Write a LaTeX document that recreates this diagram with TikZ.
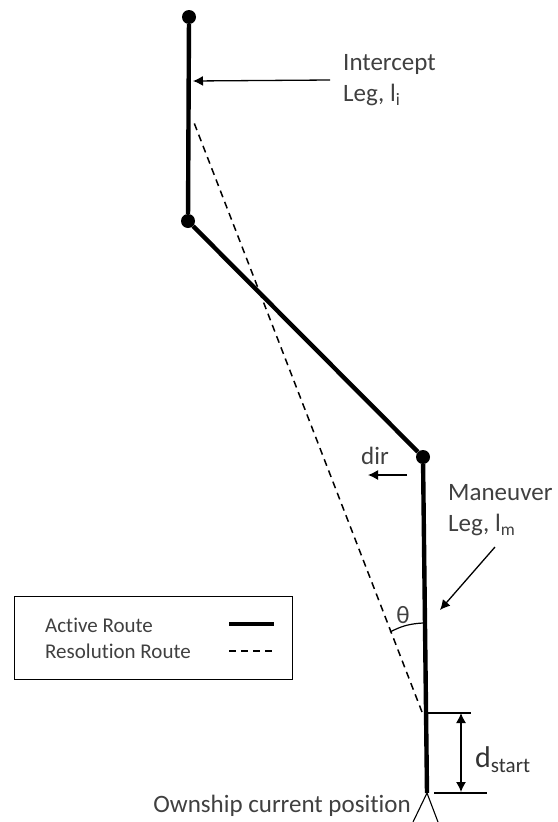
\documentclass[tikz,border=0pt]{standalone}
\usepackage{fontspec}
\setmainfont[Ligatures=NoCommon]{Carlito}
\usetikzlibrary{arrows.meta}
\tikzset{
  label text/.style={inner sep=0pt, text=black!75, font=\fontsize{25}{28}\selectfont, align=left},
  key text/.style={inner sep=0pt, text=black!75, font=\fontsize{21}{24}\selectfont},
  active route/.style={line width=4.4pt},
  resolution route/.style={line width=1.5pt, dash pattern=on 7pt off 5pt},
  waypoint/.style={circle, fill=black, inner sep=0pt, minimum size=14pt},
  pointer/.style={line width=1.3pt, -{Latex[length=10pt,width=10pt]}}
}
\begin{document}
\begin{tikzpicture}[x=1pt,y=-1pt]
\useasboundingbox (0,0) rectangle (557,822);

% route
\node[waypoint] (wpa) at (189,17) {};
\node[waypoint] (wpb) at (188,221) {};
\node[waypoint] (wpc) at (423,457) {};
\coordinate (own) at (427,793);
\draw[active route] (wpa) -- (wpb) -- (wpc) -- (own);

% resolution
\coordinate (resstart) at (422,712);
\coordinate (resend) at (193,120);
\draw[resolution route] (resstart) -- (resend);

% ownship
\coordinate (tipl) at (413,822);
\coordinate (tipr) at (438,822);
\draw[line width=1.1pt] (tipl) -- (own) -- (tipr);
\node[label text, anchor=east] (ownlabel) at (411,806) {Ownship current position};

% leg labels
\node[label text, anchor=west] (intercept) at (343,64) {Intercept};
\node[label text, anchor=west] (intleg) at (343,95) {Leg, l\textsubscript{i}};
\coordinate (inthit) at (193,81);
\coordinate (intfrom) at (330,80);
\draw[pointer] (intfrom) -- (inthit);

\node[label text, anchor=west] (maneuver) at (448,493) {Maneuver};
\node[label text, anchor=west] (manleg) at (448,525) {Leg, l\textsubscript{m}};
\coordinate (manfrom) at (495,547);
\coordinate (manhit) at (440,610);
\draw[pointer] (manfrom) -- (manhit);

% direction
\node[label text, anchor=center] (dirlabel) at (375,456) {dir};
\coordinate (dirfrom) at (407,475);
\coordinate (dirto) at (368,475);
\draw[pointer] (dirfrom) -- (dirto);

% angle
\coordinate (arcl) at (390,632);
\coordinate (arcr) at (423,623);
\draw[line width=1.2pt] (arcl) to[bend left=12] (arcr);
\node[label text, anchor=center] (thetalabel) at (403,615) {θ};

% distance
\coordinate (dtopa) at (427,713);
\coordinate (dtopb) at (471,713);
\coordinate (dbota) at (434,793);
\coordinate (dbotb) at (487,793);
\draw[line width=1.1pt] (dtopa) -- (dtopb);
\draw[line width=1.1pt] (dbota) -- (dbotb);
\coordinate (darrowa) at (461,713);
\coordinate (darrowb) at (461,792);
\draw[line width=1.3pt, {Latex[length=10pt,width=10pt]}-{Latex[length=10pt,width=10pt]}] (darrowa) -- (darrowb);
\node[inner sep=0pt, anchor=west, text=black!80, font=\fontsize{30}{33}\selectfont] (dstart) at (475,760) {d\textsubscript{start}};

% key
\node[draw, line width=1.2pt, minimum width=278pt, minimum height=83pt, inner sep=0pt, anchor=north west] (keybox) at (14,596) {};
\node[key text, anchor=west] (activekey) at (45,625) {Active Route};
\node[key text, anchor=west] (reskey) at (45,651) {Resolution Route};
\coordinate (actl) at (229,624);
\coordinate (actr) at (274,624);
\draw[active route] (actl) -- (actr);
\coordinate (resl) at (229,651);
\coordinate (resr) at (273,651);
\draw[line width=1.1pt, dash pattern=on 7pt off 5pt] (resl) -- (resr);
\end{tikzpicture}
\end{document}
